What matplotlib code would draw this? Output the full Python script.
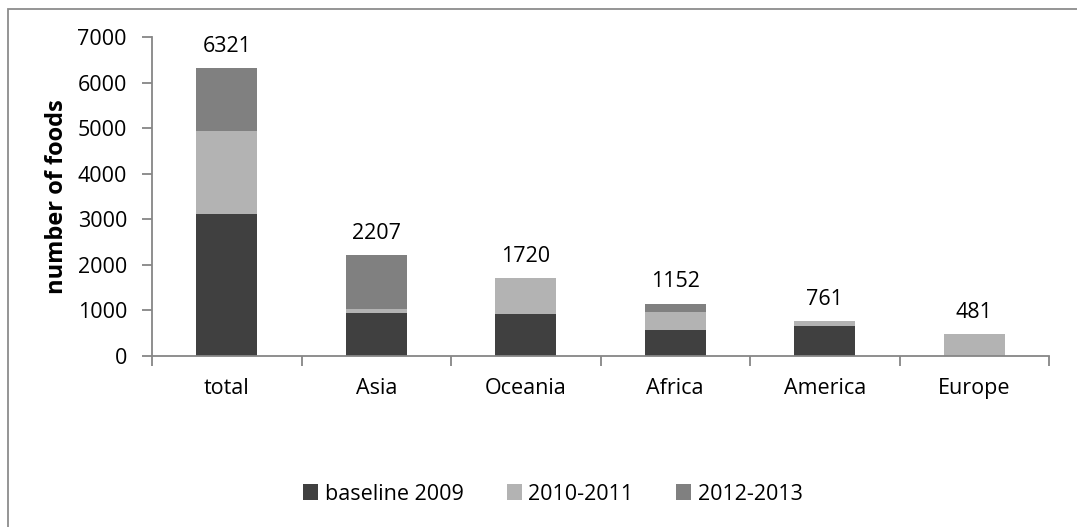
import matplotlib
matplotlib.use("Agg")
import matplotlib.pyplot as plt
from matplotlib.patches import Rectangle
import numpy as np

plt.rcParams['font.family'] = ['Open Sans', 'DejaVu Sans']

categories = ["total", "Asia", "Oceania", "Africa", "America", "Europe"]
baseline_2009 = [3110, 940, 915, 580, 660, 0]
period_2010_2011 = [1830, 100, 805, 385, 101, 481]
period_2012_2013 = [1381, 1167, 0, 187, 0, 0]
totals = [6321, 2207, 1720, 1152, 761, 481]
series_names = ["baseline 2009", "2010-2011", "2012-2013"]
series_colors = ["#404040", "#b3b3b3", "#808080"]
y_ticks = [0, 1000, 2000, 3000, 4000, 5000, 6000, 7000]

W, H = 1077, 527
fig = plt.figure(figsize=(W / 100, H / 100), dpi=100)
fig.patch.set_facecolor("white")

# chart-area border (top and left edges visible)
fig.patches.append(Rectangle((8 / W, -0.05), 1.2, (H - 9) / H + 0.05,
                             transform=fig.transFigure, fill=False,
                             edgecolor="#8c8c8c", linewidth=1.3))

ax = fig.add_axes([152 / W, (H - 356) / H, (1049 - 152) / W, (356 - 37) / H])

x = np.arange(len(categories))
width = 0.405
bottoms = np.zeros(len(categories))
for vals, name, col in zip([baseline_2009, period_2010_2011, period_2012_2013],
                           series_names, series_colors):
    ax.bar(x, vals, width, bottom=bottoms, color=col, label=name, linewidth=0)
    bottoms += np.array(vals)

for xi, t in zip(x, totals):
    ax.annotate(str(t), (xi, t), xytext=(0, 8), textcoords="offset points",
                ha="center", va="bottom", fontsize=15.5, color="black")

ax.set_xlim(-0.5, len(categories) - 0.5)
ax.set_ylim(0, 7000)
ax.set_yticks(y_ticks)
ax.set_yticklabels([str(v) for v in y_ticks], fontsize=15.5)

ax.set_xticks(x)
ax.set_xticklabels(categories, fontsize=15.5)
ax.set_xticks(np.arange(len(categories) + 1) - 0.5, minor=True)
ax.tick_params(axis="x", which="major", length=0, pad=16)
ax.tick_params(axis="x", which="minor", length=7, width=1.3, color="#868686",
               direction="out")
ax.tick_params(axis="y", length=7, width=1.3, color="#868686", pad=11,
               direction="out")

for side in ["top", "right"]:
    ax.spines[side].set_visible(False)
for side in ["left", "bottom"]:
    ax.spines[side].set_color("#868686")
    ax.spines[side].set_linewidth(1.3)

ax.set_ylabel("number of foods", fontsize=17, fontweight="bold")
ax.yaxis.set_label_coords(-0.093, 0.5)

leg = fig.legend(loc="center", bbox_to_anchor=(553 / W, (H - 494) / H),
                 ncol=3, frameon=False, fontsize=15.5, handlelength=0.7,
                 handleheight=0.7, handletextpad=0.3, columnspacing=2.0)

fig.savefig("out.png", dpi=100, facecolor="white")
